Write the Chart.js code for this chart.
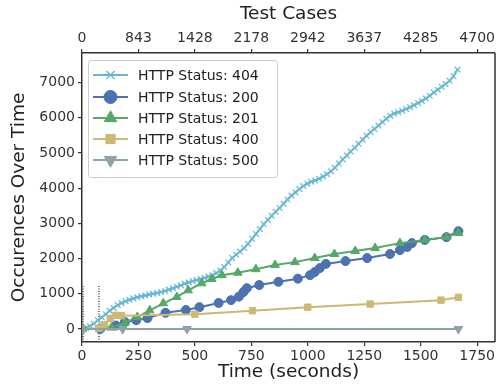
<!DOCTYPE html>
<html><head><meta charset="utf-8">
<script src="https://cdn.jsdelivr.net/npm/chart.js@4.4.1/dist/chart.umd.min.js"></script>
<style>html,body{margin:0;padding:0;background:#fff;}#wrap{width:501px;height:384px;}</style>
</head><body><div id="wrap"><canvas id="c" width="501" height="384"></canvas></div>
<script>
// ---- data ----
const seriesNames = ['HTTP Status: 404','HTTP Status: 200','HTTP Status: 201','HTTP Status: 400','HTTP Status: 500'];
const timeTicks = [0,250,500,750,1000,1250,1500,1750];
const testCaseLabels = ['0','843','1428','2178','2942','3637','4285','4700'];
const countTicks = [0,1000,2000,3000,4000,5000,6000,7000];

const t404 = [0,18,35,52,70,88,105,122,140,158,175,193,210,228,245,263,280,298,315,333,350,368,385,403,420,438,455,473,490,508,525,543,560,578,595,613,630,648,665,683,700,718,735,753,770,788,805,823,840,858,875,893,910,928,945,963,980,998,1015,1033,1050,1068,1085,1103,1120,1138,1155,1173,1190,1208,1225,1243,1260,1278,1295,1313,1330,1348,1365,1383,1400,1418,1435,1453,1470,1488,1505,1523,1540,1558,1575,1593,1610,1628,1645,1663];
const v404 = [0,30,80,150,250,330,420,520,600,680,740,790,830,870,900,930,950,980,1000,1020,1050,1080,1120,1160,1200,1240,1290,1320,1360,1390,1420,1450,1490,1530,1590,1660,1760,1890,2020,2110,2200,2300,2420,2560,2700,2840,2980,3100,3220,3330,3440,3560,3680,3790,3880,3980,4060,4130,4180,4220,4270,4330,4400,4480,4580,4700,4820,4930,5040,5150,5260,5380,5490,5590,5680,5780,5880,5970,6060,6120,6160,6200,6250,6300,6360,6420,6480,6550,6630,6720,6800,6880,6960,7050,7180,7370];

const t200 = [0,80,150,190,240,290,370,460,520,605,660,695,715,730,785,870,956,1010,1031,1053,1080,1167,1263,1364,1408,1440,1461,1518,1614,1667];
const v200 = [0,0,100,200,250,310,460,540,620,740,820,920,1050,1160,1250,1340,1430,1530,1620,1730,1850,1930,2015,2130,2240,2330,2440,2530,2610,2780];

const t201 = [0,80,130,190,245,300,360,420,470,530,575,620,690,770,855,943,1031,1118,1210,1298,1408,1518,1614,1667];
const v201 = [0,0,40,180,340,530,730,910,1100,1300,1420,1530,1600,1700,1820,1900,2015,2130,2215,2300,2440,2530,2610,2730];

const t400 = [0,75,100,125,150,175,500,755,1000,1276,1590,1667];
const v400 = [0,20,120,300,390,380,420,520,620,710,820,900];

const t500 = [0,180,465,1667];
const v500 = [0,0,0,0];

const markerTimes = [5,75];
const markerSpan = [-300,1250];

const colors = ['#66b8d2','#4c72b0','#55a868','#ccb974','#8fa2a8'];
const styles = [
  {pointStyle:'crossRot', radius:4, rotation:0},
  {pointStyle:'circle', radius:4.5, rotation:0},
  {pointStyle:'triangle', radius:5, rotation:0},
  {pointStyle:'rect', radius:4.5, rotation:0},
  {pointStyle:'triangle', radius:5, rotation:180}
];
const xs = [t404,t200,t201,t400,t500];
const ys = [v404,v200,v201,v400,v500];

const pairs = (a,b) => a.map((x,i)=>({x:x,y:b[i]}));

const datasets = seriesNames.map((name,i)=>({
  label:name,
  data:pairs(xs[i],ys[i]),
  showLine:true,
  borderColor:colors[i],
  backgroundColor:colors[i],
  borderWidth:2,
  pointStyle:styles[i].pointStyle,
  pointRadius:styles[i].radius,
  pointRotation:styles[i].rotation,
  pointBorderWidth: i===0 ? 1.2 : 1,
  pointBackgroundColor:colors[i],
  pointBorderColor:colors[i],
  order:5-i,
  tension:0
}));
markerTimes.forEach((t,k)=>{
  datasets.push({
    label:'_marker'+k,
    data:[{x:t,y:markerSpan[0]},{x:t,y:markerSpan[1]}],
    showLine:true,
    borderColor:'#555',
    borderWidth:1.5,
    borderDash:[1,1.5],
    pointRadius:0,
    order:10
  });
});

const tickFont = {family:'DejaVu Sans', size:14};
const titleFont = {family:'DejaVu Sans', size:18.5};
const axisColor = '#333';

const frame = {
  id:'frame',
  afterDraw(chart){
    const {ctx, chartArea:a} = chart;
    ctx.save();
    ctx.strokeStyle = axisColor;
    ctx.lineWidth = 1.5;
    ctx.beginPath();
    ctx.moveTo(a.right, a.top); ctx.lineTo(a.right, a.bottom);
    ctx.stroke();
    // legend
    const bx=88, by=60, bw=189, bh=117;
    ctx.fillStyle='rgba(255,255,255,0.85)';
    ctx.strokeStyle='#cccccc';
    ctx.lineWidth=1;
    ctx.beginPath();
    if (ctx.roundRect) ctx.roundRect(bx+0.5,by+0.5,bw,bh,3); else ctx.rect(bx+0.5,by+0.5,bw,bh);
    ctx.fill(); ctx.stroke();
    const rowY=[75,97,118,139,160];
    seriesNames.forEach((name,i)=>{
      const y=rowY[i];
      ctx.strokeStyle=colors[i]; ctx.fillStyle=colors[i];
      ctx.lineWidth=2; ctx.setLineDash([]);
      ctx.beginPath(); ctx.moveTo(93,y); ctx.lineTo(128,y); ctx.stroke();
      ctx.lineWidth = i===0?1.4:1;
      Chart.helpers.drawPoint(ctx,{pointStyle:styles[i].pointStyle, radius:styles[i].radius*1.45, rotation:styles[i].rotation, borderWidth:ctx.lineWidth}, 110.5, y);
      ctx.fillStyle='#222';
      ctx.font='14px "DejaVu Sans"';
      ctx.textBaseline='middle';
      ctx.textAlign='left';
      ctx.fillText(name,138,y+1);
    });
    ctx.restore();
  }
};

new Chart(document.getElementById('c'),{
  type:'scatter',
  data:{datasets:datasets},
  options:{
    responsive:false,
    animation:false,
    devicePixelRatio:1,
    layout:{padding:{left:0,right:2,top:0,bottom:0}},
    plugins:{legend:{display:false},tooltip:{enabled:false}},
    scales:{
      x:{
        type:'linear', position:'bottom', min:0, max:1829,
        afterBuildTicks:s=>{s.ticks=timeTicks.map(v=>({value:v}));},
        afterFit:s=>{s.height=42;},
        ticks:{font:tickFont,color:axisColor,padding:2,maxRotation:0,autoSkip:false,callback:v=>String(v)},
        grid:{drawOnChartArea:false,tickLength:4,color:axisColor,lineWidth:1.2},
        border:{color:axisColor,width:1.5},
        title:{display:true,text:'Time (seconds)',font:titleFont,color:'#222',padding:{top:0,bottom:1}}
      },
      x2:{
        type:'linear', position:'top', min:0, max:1829,
        afterBuildTicks:s=>{s.ticks=timeTicks.map(v=>({value:v}));},
        afterFit:s=>{s.height=53;},
        ticks:{font:tickFont,color:axisColor,padding:2,maxRotation:0,autoSkip:false,callback:(v,i)=>testCaseLabels[i]},
        grid:{drawOnChartArea:false,tickLength:4,color:axisColor,lineWidth:1.2},
        border:{color:axisColor,width:1.5},
        title:{display:true,text:'Test Cases',font:titleFont,color:'#222',padding:{top:3,bottom:0}}
      },
      y:{
        type:'linear', position:'left', min:-369, max:7841,
        afterBuildTicks:s=>{s.ticks=countTicks.map(v=>({value:v}));},
        afterFit:s=>{s.width=82;},
        ticks:{font:tickFont,color:axisColor,padding:3,autoSkip:false,callback:v=>String(v)},
        grid:{drawOnChartArea:false,tickLength:4,color:axisColor,lineWidth:1.2},
        border:{color:axisColor,width:1.5},
        title:{display:true,text:'Occurences Over Time',font:titleFont,color:'#222',padding:{top:8,bottom:0}}
      }
    }
  },
  plugins:[frame]
});
</script>
</body></html>
